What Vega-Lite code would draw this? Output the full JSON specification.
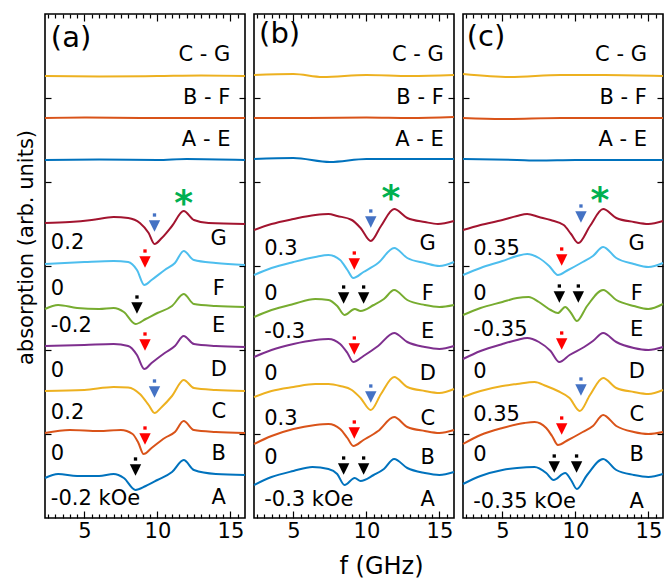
{
"$schema":"https://vega.github.io/schema/vega-lite/v6.json",
"padding":{"left":14,"top":12,"right":0,"bottom":0},
"spacing":9,
"bounds":"flush",
"config":{
 "font":"DejaVu Sans",
 "view":{"stroke":"#000","strokeWidth":1.6},
 "axis":{"domain":false,"grid":false,"tickColor":"#000","tickWidth":1.2,"labelColor":"#000","labelFontSize":21,"labelFont":"DejaVu Sans","titleFont":"DejaVu Sans","titleFontWeight":"normal","titleColor":"#000","labelOverlap":false,"labelFlush":false,"labelPadding":9},
 "text":{"font":"DejaVu Sans","fontSize":21,"color":"#000"}
},
"datasets":{
"curves":[
{"p":"a","s":"G","f":2.3,"v":295},{"p":"a","s":"G","f":4,"v":296},{"p":"a","s":"G","f":5.5,"v":298},{"p":"a","s":"G","f":7,"v":301},{"p":"a","s":"G","f":8,"v":300},{"p":"a","s":"G","f":8.8,"v":295},{"p":"a","s":"G","f":9.4,"v":285},{"p":"a","s":"G","f":9.8,"v":274},{"p":"a","s":"G","f":10.3,"v":280},{"p":"a","s":"G","f":11,"v":292},{"p":"a","s":"G","f":11.8,"v":307},{"p":"a","s":"G","f":12.5,"v":298},{"p":"a","s":"G","f":13.5,"v":295},{"p":"a","s":"G","f":16,"v":294},
{"p":"a","s":"F","f":2.3,"v":254},{"p":"a","s":"F","f":5,"v":256},{"p":"a","s":"F","f":7,"v":257},{"p":"a","s":"F","f":8,"v":256},{"p":"a","s":"F","f":8.6,"v":248},{"p":"a","s":"F","f":9.1,"v":233},{"p":"a","s":"F","f":9.6,"v":238},{"p":"a","s":"F","f":10.5,"v":248},{"p":"a","s":"F","f":11.2,"v":255},{"p":"a","s":"F","f":11.8,"v":267},{"p":"a","s":"F","f":12.5,"v":258},{"p":"a","s":"F","f":14,"v":255},{"p":"a","s":"F","f":16,"v":253},
{"p":"a","s":"E","f":2.3,"v":209},{"p":"a","s":"E","f":3.2,"v":213},{"p":"a","s":"E","f":4.5,"v":210},{"p":"a","s":"E","f":6,"v":209},{"p":"a","s":"E","f":7,"v":210},{"p":"a","s":"E","f":7.7,"v":206},{"p":"a","s":"E","f":8.5,"v":194},{"p":"a","s":"E","f":9.2,"v":199},{"p":"a","s":"E","f":10,"v":205},{"p":"a","s":"E","f":11,"v":212},{"p":"a","s":"E","f":11.8,"v":224},{"p":"a","s":"E","f":12.5,"v":214},{"p":"a","s":"E","f":14,"v":212},{"p":"a","s":"E","f":16,"v":211},
{"p":"a","s":"D","f":2.3,"v":172},{"p":"a","s":"D","f":5,"v":173},{"p":"a","s":"D","f":7,"v":174},{"p":"a","s":"D","f":8,"v":172},{"p":"a","s":"D","f":8.6,"v":163},{"p":"a","s":"D","f":9.1,"v":149},{"p":"a","s":"D","f":9.6,"v":155},{"p":"a","s":"D","f":10.5,"v":165},{"p":"a","s":"D","f":11.2,"v":172},{"p":"a","s":"D","f":11.8,"v":182},{"p":"a","s":"D","f":12.5,"v":174},{"p":"a","s":"D","f":14,"v":172},{"p":"a","s":"D","f":16,"v":171},
{"p":"a","s":"C","f":2.3,"v":127},{"p":"a","s":"C","f":5,"v":128},{"p":"a","s":"C","f":7,"v":131},{"p":"a","s":"C","f":8,"v":130.5},{"p":"a","s":"C","f":8.8,"v":124},{"p":"a","s":"C","f":9.4,"v":113},{"p":"a","s":"C","f":9.8,"v":105},{"p":"a","s":"C","f":10.3,"v":111},{"p":"a","s":"C","f":11,"v":122},{"p":"a","s":"C","f":11.8,"v":138},{"p":"a","s":"C","f":12.5,"v":130},{"p":"a","s":"C","f":14,"v":128},{"p":"a","s":"C","f":16,"v":127},
{"p":"a","s":"B","f":2.3,"v":85},{"p":"a","s":"B","f":4,"v":88},{"p":"a","s":"B","f":6,"v":87},{"p":"a","s":"B","f":7.5,"v":88},{"p":"a","s":"B","f":8.3,"v":84},{"p":"a","s":"B","f":8.7,"v":75},{"p":"a","s":"B","f":9.05,"v":64},{"p":"a","s":"B","f":9.6,"v":70},{"p":"a","s":"B","f":10.5,"v":80},{"p":"a","s":"B","f":11.2,"v":86},{"p":"a","s":"B","f":11.8,"v":97},{"p":"a","s":"B","f":12.5,"v":88},{"p":"a","s":"B","f":14,"v":86},{"p":"a","s":"B","f":16,"v":85},
{"p":"a","s":"A","f":2.3,"v":40},{"p":"a","s":"A","f":3.2,"v":44},{"p":"a","s":"A","f":4.5,"v":42},{"p":"a","s":"A","f":6,"v":42},{"p":"a","s":"A","f":7,"v":44},{"p":"a","s":"A","f":7.7,"v":40},{"p":"a","s":"A","f":8.5,"v":28},{"p":"a","s":"A","f":9.2,"v":32},{"p":"a","s":"A","f":10,"v":38},{"p":"a","s":"A","f":11,"v":46},{"p":"a","s":"A","f":11.8,"v":58},{"p":"a","s":"A","f":12.5,"v":48},{"p":"a","s":"A","f":14,"v":44},{"p":"a","s":"A","f":16,"v":43},
{"p":"a","s":"CG","f":2.3,"v":442},{"p":"a","s":"CG","f":6,"v":441.5},{"p":"a","s":"CG","f":10,"v":442},{"p":"a","s":"CG","f":13,"v":442.5},{"p":"a","s":"CG","f":16,"v":442},
{"p":"a","s":"BF","f":2.3,"v":400},{"p":"a","s":"BF","f":5,"v":400.5},{"p":"a","s":"BF","f":9,"v":400},{"p":"a","s":"BF","f":13,"v":400},{"p":"a","s":"BF","f":16,"v":400},
{"p":"a","s":"AE","f":2.3,"v":358},{"p":"a","s":"AE","f":6,"v":358.5},{"p":"a","s":"AE","f":10,"v":358},{"p":"a","s":"AE","f":12,"v":359},{"p":"a","s":"AE","f":16,"v":358},
{"p":"b","s":"G","f":2.3,"v":288},{"p":"b","s":"G","f":3.5,"v":294},{"p":"b","s":"G","f":5,"v":299},{"p":"b","s":"G","f":6.5,"v":303},{"p":"b","s":"G","f":7.4,"v":304},{"p":"b","s":"G","f":8,"v":302},{"p":"b","s":"G","f":9,"v":298},{"p":"b","s":"G","f":9.6,"v":290},{"p":"b","s":"G","f":10.3,"v":277},{"p":"b","s":"G","f":11,"v":292},{"p":"b","s":"G","f":11.9,"v":309},{"p":"b","s":"G","f":12.8,"v":300},{"p":"b","s":"G","f":14,"v":296},{"p":"b","s":"G","f":14.9,"v":294},{"p":"b","s":"G","f":16,"v":297},
{"p":"b","s":"F","f":2.3,"v":243},{"p":"b","s":"F","f":3.5,"v":250},{"p":"b","s":"F","f":5,"v":256},{"p":"b","s":"F","f":6.5,"v":261},{"p":"b","s":"F","f":7.4,"v":263},{"p":"b","s":"F","f":8.2,"v":258},{"p":"b","s":"F","f":8.7,"v":248},{"p":"b","s":"F","f":9.1,"v":240},{"p":"b","s":"F","f":9.8,"v":246},{"p":"b","s":"F","f":10.8,"v":255},{"p":"b","s":"F","f":11.9,"v":270},{"p":"b","s":"F","f":12.8,"v":260},{"p":"b","s":"F","f":14,"v":255},{"p":"b","s":"F","f":15,"v":252},{"p":"b","s":"F","f":16,"v":256},
{"p":"b","s":"E","f":2.3,"v":201},{"p":"b","s":"E","f":3.5,"v":208},{"p":"b","s":"E","f":5,"v":214},{"p":"b","s":"E","f":6.5,"v":219},{"p":"b","s":"E","f":7.4,"v":218},{"p":"b","s":"E","f":8,"v":212},{"p":"b","s":"E","f":8.5,"v":203},{"p":"b","s":"E","f":9.2,"v":209},{"p":"b","s":"E","f":9.6,"v":207},{"p":"b","s":"E","f":10.5,"v":213},{"p":"b","s":"E","f":11.2,"v":219},{"p":"b","s":"E","f":11.9,"v":228},{"p":"b","s":"E","f":12.8,"v":218},{"p":"b","s":"E","f":14,"v":213},{"p":"b","s":"E","f":15,"v":211},{"p":"b","s":"E","f":16,"v":213},
{"p":"b","s":"D","f":2.3,"v":161},{"p":"b","s":"D","f":3.5,"v":168},{"p":"b","s":"D","f":5,"v":174},{"p":"b","s":"D","f":6.5,"v":178},{"p":"b","s":"D","f":7.4,"v":179},{"p":"b","s":"D","f":8.2,"v":174},{"p":"b","s":"D","f":8.7,"v":165},{"p":"b","s":"D","f":9.1,"v":156},{"p":"b","s":"D","f":9.8,"v":162},{"p":"b","s":"D","f":10.8,"v":172},{"p":"b","s":"D","f":11.9,"v":185},{"p":"b","s":"D","f":12.8,"v":176},{"p":"b","s":"D","f":14,"v":171},{"p":"b","s":"D","f":15,"v":169},{"p":"b","s":"D","f":16,"v":172},
{"p":"b","s":"C","f":2.3,"v":121},{"p":"b","s":"C","f":3.5,"v":127},{"p":"b","s":"C","f":5,"v":131},{"p":"b","s":"C","f":6.5,"v":134},{"p":"b","s":"C","f":7.4,"v":134},{"p":"b","s":"C","f":8.2,"v":132},{"p":"b","s":"C","f":9,"v":128},{"p":"b","s":"C","f":9.6,"v":120},{"p":"b","s":"C","f":10.3,"v":108},{"p":"b","s":"C","f":11,"v":124},{"p":"b","s":"C","f":11.9,"v":141},{"p":"b","s":"C","f":12.8,"v":131},{"p":"b","s":"C","f":14,"v":127},{"p":"b","s":"C","f":15,"v":125},{"p":"b","s":"C","f":16,"v":129},
{"p":"b","s":"B","f":2.3,"v":74},{"p":"b","s":"B","f":3.5,"v":82},{"p":"b","s":"B","f":5,"v":89},{"p":"b","s":"B","f":6.5,"v":93},{"p":"b","s":"B","f":7.4,"v":94},{"p":"b","s":"B","f":8.2,"v":89},{"p":"b","s":"B","f":8.7,"v":80},{"p":"b","s":"B","f":9.1,"v":72},{"p":"b","s":"B","f":9.8,"v":78},{"p":"b","s":"B","f":10.8,"v":87},{"p":"b","s":"B","f":11.9,"v":101},{"p":"b","s":"B","f":12.8,"v":91},{"p":"b","s":"B","f":14,"v":87},{"p":"b","s":"B","f":15,"v":85},{"p":"b","s":"B","f":16,"v":88},
{"p":"b","s":"A","f":2.3,"v":33},{"p":"b","s":"A","f":3.5,"v":41},{"p":"b","s":"A","f":5,"v":47},{"p":"b","s":"A","f":6.3,"v":51},{"p":"b","s":"A","f":7.4,"v":49},{"p":"b","s":"A","f":8,"v":44},{"p":"b","s":"A","f":8.5,"v":33},{"p":"b","s":"A","f":9.2,"v":40},{"p":"b","s":"A","f":9.6,"v":37},{"p":"b","s":"A","f":10.5,"v":43},{"p":"b","s":"A","f":11.2,"v":49},{"p":"b","s":"A","f":11.9,"v":59},{"p":"b","s":"A","f":12.8,"v":50},{"p":"b","s":"A","f":14,"v":45},{"p":"b","s":"A","f":15,"v":43},{"p":"b","s":"A","f":16,"v":46},
{"p":"b","s":"CG","f":2.3,"v":443},{"p":"b","s":"CG","f":5,"v":444},{"p":"b","s":"CG","f":7,"v":441},{"p":"b","s":"CG","f":10,"v":443},{"p":"b","s":"CG","f":13,"v":442},{"p":"b","s":"CG","f":16,"v":443},
{"p":"b","s":"BF","f":2.3,"v":400},{"p":"b","s":"BF","f":6,"v":400},{"p":"b","s":"BF","f":10,"v":400.5},{"p":"b","s":"BF","f":13,"v":400},{"p":"b","s":"BF","f":16,"v":401},
{"p":"b","s":"AE","f":2.3,"v":359},{"p":"b","s":"AE","f":5,"v":360},{"p":"b","s":"AE","f":7.5,"v":356},{"p":"b","s":"AE","f":10,"v":359},{"p":"b","s":"AE","f":13,"v":359},{"p":"b","s":"AE","f":16,"v":359},
{"p":"c","s":"G","f":2.3,"v":288},{"p":"c","s":"G","f":3.5,"v":293},{"p":"c","s":"G","f":5,"v":298},{"p":"c","s":"G","f":6,"v":302},{"p":"c","s":"G","f":6.7,"v":304},{"p":"c","s":"G","f":7.5,"v":301},{"p":"c","s":"G","f":8.3,"v":298},{"p":"c","s":"G","f":9.2,"v":293},{"p":"c","s":"G","f":9.7,"v":284},{"p":"c","s":"G","f":10.2,"v":275},{"p":"c","s":"G","f":11,"v":292},{"p":"c","s":"G","f":11.9,"v":309},{"p":"c","s":"G","f":12.8,"v":300},{"p":"c","s":"G","f":14,"v":296},{"p":"c","s":"G","f":15,"v":294},{"p":"c","s":"G","f":16,"v":297},
{"p":"c","s":"F","f":2.3,"v":243},{"p":"c","s":"F","f":3.5,"v":250},{"p":"c","s":"F","f":5,"v":257},{"p":"c","s":"F","f":6,"v":262},{"p":"c","s":"F","f":6.7,"v":264},{"p":"c","s":"F","f":7.5,"v":260},{"p":"c","s":"F","f":8.2,"v":252},{"p":"c","s":"F","f":8.8,"v":243},{"p":"c","s":"F","f":9.5,"v":248},{"p":"c","s":"F","f":10.5,"v":256},{"p":"c","s":"F","f":11.2,"v":262},{"p":"c","s":"F","f":11.9,"v":271},{"p":"c","s":"F","f":12.8,"v":260},{"p":"c","s":"F","f":14,"v":254},{"p":"c","s":"F","f":15,"v":251},{"p":"c","s":"F","f":16,"v":255},
{"p":"c","s":"E","f":2.3,"v":203},{"p":"c","s":"E","f":3.5,"v":210},{"p":"c","s":"E","f":5,"v":216},{"p":"c","s":"E","f":6,"v":220},{"p":"c","s":"E","f":6.8,"v":221},{"p":"c","s":"E","f":7.5,"v":216},{"p":"c","s":"E","f":8.3,"v":208},{"p":"c","s":"E","f":8.8,"v":205},{"p":"c","s":"E","f":9.3,"v":211},{"p":"c","s":"E","f":9.7,"v":205},{"p":"c","s":"E","f":10.1,"v":197},{"p":"c","s":"E","f":10.8,"v":212},{"p":"c","s":"E","f":11.9,"v":228},{"p":"c","s":"E","f":12.8,"v":218},{"p":"c","s":"E","f":14,"v":212},{"p":"c","s":"E","f":15,"v":209},{"p":"c","s":"E","f":16,"v":214},
{"p":"c","s":"D","f":2.3,"v":159},{"p":"c","s":"D","f":3.5,"v":167},{"p":"c","s":"D","f":5,"v":174},{"p":"c","s":"D","f":6,"v":178},{"p":"c","s":"D","f":6.7,"v":180},{"p":"c","s":"D","f":7.5,"v":176},{"p":"c","s":"D","f":8.3,"v":167},{"p":"c","s":"D","f":8.9,"v":156},{"p":"c","s":"D","f":9.6,"v":163},{"p":"c","s":"D","f":10.6,"v":171},{"p":"c","s":"D","f":11.2,"v":177},{"p":"c","s":"D","f":11.9,"v":185},{"p":"c","s":"D","f":12.8,"v":176},{"p":"c","s":"D","f":14,"v":170},{"p":"c","s":"D","f":15,"v":168},{"p":"c","s":"D","f":16,"v":171},
{"p":"c","s":"C","f":2.3,"v":121},{"p":"c","s":"C","f":3.5,"v":127},{"p":"c","s":"C","f":5,"v":132},{"p":"c","s":"C","f":6,"v":134},{"p":"c","s":"C","f":7.2,"v":136},{"p":"c","s":"C","f":8,"v":132},{"p":"c","s":"C","f":8.8,"v":127},{"p":"c","s":"C","f":9.6,"v":120},{"p":"c","s":"C","f":10.3,"v":107},{"p":"c","s":"C","f":11,"v":123},{"p":"c","s":"C","f":11.9,"v":140},{"p":"c","s":"C","f":12.8,"v":130},{"p":"c","s":"C","f":14,"v":126},{"p":"c","s":"C","f":15,"v":124},{"p":"c","s":"C","f":16,"v":128},
{"p":"c","s":"B","f":2.3,"v":74},{"p":"c","s":"B","f":3.5,"v":83},{"p":"c","s":"B","f":5,"v":90},{"p":"c","s":"B","f":6.5,"v":95},{"p":"c","s":"B","f":7.2,"v":96},{"p":"c","s":"B","f":8,"v":90},{"p":"c","s":"B","f":8.4,"v":82},{"p":"c","s":"B","f":8.8,"v":73},{"p":"c","s":"B","f":9.5,"v":78},{"p":"c","s":"B","f":10.5,"v":86},{"p":"c","s":"B","f":11.2,"v":92},{"p":"c","s":"B","f":11.9,"v":103},{"p":"c","s":"B","f":12.8,"v":92},{"p":"c","s":"B","f":14,"v":86},{"p":"c","s":"B","f":15,"v":84},{"p":"c","s":"B","f":16,"v":86},
{"p":"c","s":"A","f":2.3,"v":34},{"p":"c","s":"A","f":3.5,"v":42},{"p":"c","s":"A","f":5,"v":48},{"p":"c","s":"A","f":6,"v":50},{"p":"c","s":"A","f":7.2,"v":51},{"p":"c","s":"A","f":8,"v":45},{"p":"c","s":"A","f":8.5,"v":38},{"p":"c","s":"A","f":9.3,"v":45},{"p":"c","s":"A","f":9.7,"v":38},{"p":"c","s":"A","f":10.1,"v":29},{"p":"c","s":"A","f":10.8,"v":43},{"p":"c","s":"A","f":11.9,"v":59},{"p":"c","s":"A","f":12.8,"v":48},{"p":"c","s":"A","f":14,"v":43},{"p":"c","s":"A","f":15,"v":41},{"p":"c","s":"A","f":16,"v":44},
{"p":"c","s":"CG","f":2.3,"v":444},{"p":"c","s":"CG","f":5.5,"v":441},{"p":"c","s":"CG","f":9,"v":443},{"p":"c","s":"CG","f":12,"v":443},{"p":"c","s":"CG","f":16,"v":442},
{"p":"c","s":"BF","f":2.3,"v":400},{"p":"c","s":"BF","f":5,"v":399},{"p":"c","s":"BF","f":9,"v":400},{"p":"c","s":"BF","f":13,"v":400},{"p":"c","s":"BF","f":16,"v":400},
{"p":"c","s":"AE","f":2.3,"v":359},{"p":"c","s":"AE","f":6,"v":358},{"p":"c","s":"AE","f":7.5,"v":357.5},{"p":"c","s":"AE","f":10,"v":358},{"p":"c","s":"AE","f":16,"v":358}
],
"arrows":[
{"p":"a","k":"b","f":9.8,"v":292},{"p":"a","k":"r","f":9.15,"v":256},{"p":"a","k":"k","f":8.6,"v":210},{"p":"a","k":"r","f":9.15,"v":173},{"p":"a","k":"b","f":9.8,"v":126},{"p":"a","k":"r","f":9.15,"v":79},{"p":"a","k":"k","f":8.5,"v":48},
{"p":"b","k":"b","f":10.3,"v":296},{"p":"b","k":"r","f":9.17,"v":254},{"p":"b","k":"k","f":8.44,"v":220},{"p":"b","k":"k","f":9.81,"v":220},{"p":"b","k":"r","f":9.17,"v":169},{"p":"b","k":"b","f":10.3,"v":121},{"p":"b","k":"r","f":9.17,"v":85},{"p":"b","k":"k","f":8.44,"v":49},{"p":"b","k":"k","f":9.81,"v":49},
{"p":"c","k":"b","f":10.38,"v":301},{"p":"c","k":"r","f":9.06,"v":258},{"p":"c","k":"k","f":8.9,"v":221},{"p":"c","k":"k","f":10.2,"v":221},{"p":"c","k":"r","f":9.06,"v":174},{"p":"c","k":"b","f":10.38,"v":128},{"p":"c","k":"r","f":9.06,"v":89},{"p":"c","k":"k","f":8.55,"v":51},{"p":"c","k":"k","f":10.08,"v":51}
],
"stars":[{"p":"a","f":11.8,"v":321},{"p":"b","f":11.68,"v":326},{"p":"c","f":11.68,"v":324}],
"leftlab":[
{"p":"a","t":"0.2","f":2.7,"v":275},{"p":"a","t":"0","f":2.7,"v":229},{"p":"a","t":"-0.2","f":2.7,"v":192},{"p":"a","t":"0","f":2.7,"v":147},{"p":"a","t":"0.2","f":2.7,"v":105},{"p":"a","t":"0","f":2.7,"v":64},{"p":"a","t":"-0.2 kOe","f":2.7,"v":19},
{"p":"b","t":"0.3","f":3.0,"v":269},{"p":"b","t":"0","f":3.0,"v":224},{"p":"b","t":"-0.3","f":3.0,"v":186},{"p":"b","t":"0","f":3.0,"v":144},{"p":"b","t":"0.3","f":3.0,"v":99},{"p":"b","t":"0","f":3.0,"v":60},{"p":"b","t":"-0.3 kOe","f":3.0,"v":18},
{"p":"c","t":"0.35","f":3.0,"v":269},{"p":"c","t":"0","f":3.0,"v":224},{"p":"c","t":"-0.35","f":3.0,"v":188},{"p":"c","t":"0","f":3.0,"v":146},{"p":"c","t":"0.35","f":3.0,"v":103},{"p":"c","t":"0","f":3.0,"v":63},{"p":"c","t":"-0.35 kOe","f":3.0,"v":16}
],
"letters":[
{"p":"a","t":"G","v":279},{"p":"a","t":"F","v":229},{"p":"a","t":"E","v":192},{"p":"a","t":"D","v":148},{"p":"a","t":"C","v":106},{"p":"a","t":"B","v":64},{"p":"a","t":"A","v":20},
{"p":"b","t":"G","v":274},{"p":"b","t":"F","v":224},{"p":"b","t":"E","v":186},{"p":"b","t":"D","v":144},{"p":"b","t":"C","v":99},{"p":"b","t":"B","v":60},{"p":"b","t":"A","v":18},
{"p":"c","t":"G","v":274},{"p":"c","t":"F","v":224},{"p":"c","t":"E","v":188},{"p":"c","t":"D","v":146},{"p":"c","t":"C","v":103},{"p":"c","t":"B","v":63},{"p":"c","t":"A","v":16}
],
"difflab":[
{"p":"a","t":"C - G","f":15.0,"v":463},{"p":"a","t":"B - F","f":15.0,"v":420},{"p":"a","t":"A - E","f":15.0,"v":378},
{"p":"b","t":"C - G","f":15.3,"v":463},{"p":"b","t":"B - F","f":15.3,"v":420},{"p":"b","t":"A - E","f":15.3,"v":378},
{"p":"c","t":"C - G","f":14.9,"v":463},{"p":"c","t":"B - F","f":14.9,"v":420},{"p":"c","t":"A - E","f":14.9,"v":378}
],
"plab":[{"p":"a","t":"(a)","f":2.7,"v":480},{"p":"b","t":"(b)","f":2.65,"v":484},{"p":"c","t":"(c)","f":2.55,"v":481}]
},
"hconcat":[
{"width":200,"height":504,"resolve":{"axis":{"x":"independent","y":"independent"}},
"layer":[
{"data":{"name":"curves"},"transform":[{"filter":"datum.p==='a'"}],"mark":{"type":"line","strokeWidth":2,"interpolate":"monotone"},
 "encoding":{"x":{"field":"f","type":"quantitative","scale":{"domain":[2.3,16],"nice":false,"zero":false},"axis":{"orient":"bottom","values":[5,10,15],"tickSize":-7,"title":null}},
 "y":{"field":"v","type":"quantitative","scale":{"domain":[0,504],"nice":false,"zero":false},"axis":{"orient":"left","values":[84,168,252,336,420],"offset":-6,"tickSize":6,"labels":false,"labelPadding":0,"title":"absorption (arb. units)","titleFontSize":21,"titleX":-15,"titleY":233}},
 "stroke":{"field":"s","type":"nominal","scale":{"domain":["A","B","C","D","E","F","G","AE","BF","CG"],"range":["#0072BD","#D95319","#EDB120","#7E2F8E","#77AC30","#4DBEEE","#A2142F","#0072BD","#D95319","#EDB120"]},"legend":null}}},
{"data":{"name":"arrows"},"transform":[{"filter":"datum.p==='a'"}],"mark":{"type":"point","shape":"M-1,-1L1,-1L0,1Z","size":130,"filled":true,"opacity":1,"strokeWidth":0},
 "encoding":{"x":{"field":"f","type":"quantitative","scale":{"domain":[2.3,16],"nice":false,"zero":false},"axis":{"orient":"top","values":[5,10,15],"tickSize":-7,"labels":false,"labelPadding":0,"title":null}},
 "y":{"field":"v","type":"quantitative","scale":{"domain":[0,504],"nice":false,"zero":false},"axis":{"orient":"right","values":[84,168,252,336,420],"offset":-6,"tickSize":6,"labels":false,"labelPadding":0,"title":null}},
 "fill":{"field":"k","type":"nominal","scale":{"domain":["b","r","k"],"range":["#4472C4","#FF0000","#000000"]},"legend":null}}},
{"data":{"name":"arrows"},"transform":[{"filter":"datum.p==='a'"}],"mark":{"type":"square","size":11,"yOffset":-11,"opacity":1},
 "encoding":{"x":{"field":"f","type":"quantitative","scale":{"domain":[2.3,16],"nice":false,"zero":false},"axis":{"orient":"bottom","values":[2.5,3,3.5,4,4.5,5.5,6,6.5,7,7.5,8,8.5,9,9.5,10.5,11,11.5,12,12.5,13,13.5,14,14.5,15.5],"tickSize":-4,"labels":false,"labelPadding":0,"title":null}},
 "y":{"field":"v","type":"quantitative","scale":{"domain":[0,504],"nice":false,"zero":false},"axis":null},
 "fill":{"field":"k","type":"nominal","scale":{"domain":["b","r","k"],"range":["#4472C4","#FF0000","#000000"]},"legend":null}}},
{"data":{"name":"stars"},"transform":[{"filter":"datum.p==='a'"}],"mark":{"type":"text","text":"*","fontSize":36,"fontWeight":"bold","color":"#00B050","dy":7,"align":"center","baseline":"middle"},
 "encoding":{"x":{"field":"f","type":"quantitative","scale":{"domain":[2.3,16],"nice":false,"zero":false},"axis":{"orient":"top","values":[2.5,3,3.5,4,4.5,5.5,6,6.5,7,7.5,8,8.5,9,9.5,10.5,11,11.5,12,12.5,13,13.5,14,14.5,15.5],"tickSize":-4,"labels":false,"labelPadding":0,"title":null}},
 "y":{"field":"v","type":"quantitative","scale":{"domain":[0,504],"nice":false,"zero":false},"axis":null}}},
{"data":{"name":"leftlab"},"transform":[{"filter":"datum.p==='a'"}],"mark":{"type":"text","align":"left","baseline":"middle"},
 "encoding":{"x":{"field":"f","type":"quantitative","scale":{"domain":[2.3,16],"nice":false,"zero":false},"axis":null},"y":{"field":"v","type":"quantitative","scale":{"domain":[0,504],"nice":false,"zero":false},"axis":null},"text":{"field":"t","type":"nominal"}}},
{"data":{"name":"letters"},"transform":[{"filter":"datum.p==='a'"}],"mark":{"type":"text","align":"center","baseline":"middle"},
 "encoding":{"x":{"datum":14.2,"type":"quantitative","scale":{"domain":[2.3,16],"nice":false,"zero":false},"axis":null},"y":{"field":"v","type":"quantitative","scale":{"domain":[0,504],"nice":false,"zero":false},"axis":null},"text":{"field":"t","type":"nominal"}}},
{"data":{"name":"difflab"},"transform":[{"filter":"datum.p==='a'"}],"mark":{"type":"text","align":"right","baseline":"middle"},
 "encoding":{"x":{"field":"f","type":"quantitative","scale":{"domain":[2.3,16],"nice":false,"zero":false},"axis":null},"y":{"field":"v","type":"quantitative","scale":{"domain":[0,504],"nice":false,"zero":false},"axis":null},"text":{"field":"t","type":"nominal"}}},
{"data":{"name":"plab"},"transform":[{"filter":"datum.p==='a'"}],"mark":{"type":"text","align":"left","baseline":"middle","fontSize":29},
 "encoding":{"x":{"field":"f","type":"quantitative","scale":{"domain":[2.3,16],"nice":false,"zero":false},"axis":null},"y":{"field":"v","type":"quantitative","scale":{"domain":[0,504],"nice":false,"zero":false},"axis":null},"text":{"field":"t","type":"nominal"}}}
]},
{"width":200,"height":504,"resolve":{"axis":{"x":"independent","y":"independent"}},
"layer":[
{"data":{"name":"curves"},"transform":[{"filter":"datum.p==='b'"}],"mark":{"type":"line","strokeWidth":2,"interpolate":"monotone"},
 "encoding":{"x":{"field":"f","type":"quantitative","scale":{"domain":[2.3,16],"nice":false,"zero":false},"axis":{"orient":"bottom","values":[5,10,15],"tickSize":-7,"title":"f (GHz)","titleFontSize":24,"titleX":127,"titleY":36}},
 "y":{"field":"v","type":"quantitative","scale":{"domain":[0,504],"nice":false,"zero":false},"axis":{"orient":"left","values":[84,168,252,336,420],"offset":-6,"tickSize":6,"labels":false,"labelPadding":0,"title":null}},
 "stroke":{"field":"s","type":"nominal","scale":{"domain":["A","B","C","D","E","F","G","AE","BF","CG"],"range":["#0072BD","#D95319","#EDB120","#7E2F8E","#77AC30","#4DBEEE","#A2142F","#0072BD","#D95319","#EDB120"]},"legend":null}}},
{"data":{"name":"arrows"},"transform":[{"filter":"datum.p==='b'"}],"mark":{"type":"point","shape":"M-1,-1L1,-1L0,1Z","size":130,"filled":true,"opacity":1,"strokeWidth":0},
 "encoding":{"x":{"field":"f","type":"quantitative","scale":{"domain":[2.3,16],"nice":false,"zero":false},"axis":{"orient":"top","values":[5,10,15],"tickSize":-7,"labels":false,"labelPadding":0,"title":null}},
 "y":{"field":"v","type":"quantitative","scale":{"domain":[0,504],"nice":false,"zero":false},"axis":{"orient":"right","values":[84,168,252,336,420],"offset":-6,"tickSize":6,"labels":false,"labelPadding":0,"title":null}},
 "fill":{"field":"k","type":"nominal","scale":{"domain":["b","r","k"],"range":["#4472C4","#FF0000","#000000"]},"legend":null}}},
{"data":{"name":"arrows"},"transform":[{"filter":"datum.p==='b'"}],"mark":{"type":"square","size":11,"yOffset":-11,"opacity":1},
 "encoding":{"x":{"field":"f","type":"quantitative","scale":{"domain":[2.3,16],"nice":false,"zero":false},"axis":{"orient":"bottom","values":[2.5,3,3.5,4,4.5,5.5,6,6.5,7,7.5,8,8.5,9,9.5,10.5,11,11.5,12,12.5,13,13.5,14,14.5,15.5],"tickSize":-4,"labels":false,"labelPadding":0,"title":null}},
 "y":{"field":"v","type":"quantitative","scale":{"domain":[0,504],"nice":false,"zero":false},"axis":null},
 "fill":{"field":"k","type":"nominal","scale":{"domain":["b","r","k"],"range":["#4472C4","#FF0000","#000000"]},"legend":null}}},
{"data":{"name":"stars"},"transform":[{"filter":"datum.p==='b'"}],"mark":{"type":"text","text":"*","fontSize":36,"fontWeight":"bold","color":"#00B050","dy":7,"align":"center","baseline":"middle"},
 "encoding":{"x":{"field":"f","type":"quantitative","scale":{"domain":[2.3,16],"nice":false,"zero":false},"axis":{"orient":"top","values":[2.5,3,3.5,4,4.5,5.5,6,6.5,7,7.5,8,8.5,9,9.5,10.5,11,11.5,12,12.5,13,13.5,14,14.5,15.5],"tickSize":-4,"labels":false,"labelPadding":0,"title":null}},
 "y":{"field":"v","type":"quantitative","scale":{"domain":[0,504],"nice":false,"zero":false},"axis":null}}},
{"data":{"name":"leftlab"},"transform":[{"filter":"datum.p==='b'"}],"mark":{"type":"text","align":"left","baseline":"middle"},
 "encoding":{"x":{"field":"f","type":"quantitative","scale":{"domain":[2.3,16],"nice":false,"zero":false},"axis":null},"y":{"field":"v","type":"quantitative","scale":{"domain":[0,504],"nice":false,"zero":false},"axis":null},"text":{"field":"t","type":"nominal"}}},
{"data":{"name":"letters"},"transform":[{"filter":"datum.p==='b'"}],"mark":{"type":"text","align":"center","baseline":"middle"},
 "encoding":{"x":{"datum":14.2,"type":"quantitative","scale":{"domain":[2.3,16],"nice":false,"zero":false},"axis":null},"y":{"field":"v","type":"quantitative","scale":{"domain":[0,504],"nice":false,"zero":false},"axis":null},"text":{"field":"t","type":"nominal"}}},
{"data":{"name":"difflab"},"transform":[{"filter":"datum.p==='b'"}],"mark":{"type":"text","align":"right","baseline":"middle"},
 "encoding":{"x":{"field":"f","type":"quantitative","scale":{"domain":[2.3,16],"nice":false,"zero":false},"axis":null},"y":{"field":"v","type":"quantitative","scale":{"domain":[0,504],"nice":false,"zero":false},"axis":null},"text":{"field":"t","type":"nominal"}}},
{"data":{"name":"plab"},"transform":[{"filter":"datum.p==='b'"}],"mark":{"type":"text","align":"left","baseline":"middle","fontSize":29},
 "encoding":{"x":{"field":"f","type":"quantitative","scale":{"domain":[2.3,16],"nice":false,"zero":false},"axis":null},"y":{"field":"v","type":"quantitative","scale":{"domain":[0,504],"nice":false,"zero":false},"axis":null},"text":{"field":"t","type":"nominal"}}}
]},
{"width":200,"height":504,"resolve":{"axis":{"x":"independent","y":"independent"}},
"layer":[
{"data":{"name":"curves"},"transform":[{"filter":"datum.p==='c'"}],"mark":{"type":"line","strokeWidth":2,"interpolate":"monotone"},
 "encoding":{"x":{"field":"f","type":"quantitative","scale":{"domain":[2.3,16],"nice":false,"zero":false},"axis":{"orient":"bottom","values":[5,10,15],"tickSize":-7,"title":null}},
 "y":{"field":"v","type":"quantitative","scale":{"domain":[0,504],"nice":false,"zero":false},"axis":{"orient":"left","values":[84,168,252,336,420],"offset":-6,"tickSize":6,"labels":false,"labelPadding":0,"title":null}},
 "stroke":{"field":"s","type":"nominal","scale":{"domain":["A","B","C","D","E","F","G","AE","BF","CG"],"range":["#0072BD","#D95319","#EDB120","#7E2F8E","#77AC30","#4DBEEE","#A2142F","#0072BD","#D95319","#EDB120"]},"legend":null}}},
{"data":{"name":"arrows"},"transform":[{"filter":"datum.p==='c'"}],"mark":{"type":"point","shape":"M-1,-1L1,-1L0,1Z","size":130,"filled":true,"opacity":1,"strokeWidth":0},
 "encoding":{"x":{"field":"f","type":"quantitative","scale":{"domain":[2.3,16],"nice":false,"zero":false},"axis":{"orient":"top","values":[5,10,15],"tickSize":-7,"labels":false,"labelPadding":0,"title":null}},
 "y":{"field":"v","type":"quantitative","scale":{"domain":[0,504],"nice":false,"zero":false},"axis":{"orient":"right","values":[84,168,252,336,420],"offset":-6,"tickSize":6,"labels":false,"labelPadding":0,"title":null}},
 "fill":{"field":"k","type":"nominal","scale":{"domain":["b","r","k"],"range":["#4472C4","#FF0000","#000000"]},"legend":null}}},
{"data":{"name":"arrows"},"transform":[{"filter":"datum.p==='c'"}],"mark":{"type":"square","size":11,"yOffset":-11,"opacity":1},
 "encoding":{"x":{"field":"f","type":"quantitative","scale":{"domain":[2.3,16],"nice":false,"zero":false},"axis":{"orient":"bottom","values":[2.5,3,3.5,4,4.5,5.5,6,6.5,7,7.5,8,8.5,9,9.5,10.5,11,11.5,12,12.5,13,13.5,14,14.5,15.5],"tickSize":-4,"labels":false,"labelPadding":0,"title":null}},
 "y":{"field":"v","type":"quantitative","scale":{"domain":[0,504],"nice":false,"zero":false},"axis":null},
 "fill":{"field":"k","type":"nominal","scale":{"domain":["b","r","k"],"range":["#4472C4","#FF0000","#000000"]},"legend":null}}},
{"data":{"name":"stars"},"transform":[{"filter":"datum.p==='c'"}],"mark":{"type":"text","text":"*","fontSize":36,"fontWeight":"bold","color":"#00B050","dy":7,"align":"center","baseline":"middle"},
 "encoding":{"x":{"field":"f","type":"quantitative","scale":{"domain":[2.3,16],"nice":false,"zero":false},"axis":{"orient":"top","values":[2.5,3,3.5,4,4.5,5.5,6,6.5,7,7.5,8,8.5,9,9.5,10.5,11,11.5,12,12.5,13,13.5,14,14.5,15.5],"tickSize":-4,"labels":false,"labelPadding":0,"title":null}},
 "y":{"field":"v","type":"quantitative","scale":{"domain":[0,504],"nice":false,"zero":false},"axis":null}}},
{"data":{"name":"leftlab"},"transform":[{"filter":"datum.p==='c'"}],"mark":{"type":"text","align":"left","baseline":"middle"},
 "encoding":{"x":{"field":"f","type":"quantitative","scale":{"domain":[2.3,16],"nice":false,"zero":false},"axis":null},"y":{"field":"v","type":"quantitative","scale":{"domain":[0,504],"nice":false,"zero":false},"axis":null},"text":{"field":"t","type":"nominal"}}},
{"data":{"name":"letters"},"transform":[{"filter":"datum.p==='c'"}],"mark":{"type":"text","align":"center","baseline":"middle"},
 "encoding":{"x":{"datum":14.2,"type":"quantitative","scale":{"domain":[2.3,16],"nice":false,"zero":false},"axis":null},"y":{"field":"v","type":"quantitative","scale":{"domain":[0,504],"nice":false,"zero":false},"axis":null},"text":{"field":"t","type":"nominal"}}},
{"data":{"name":"difflab"},"transform":[{"filter":"datum.p==='c'"}],"mark":{"type":"text","align":"right","baseline":"middle"},
 "encoding":{"x":{"field":"f","type":"quantitative","scale":{"domain":[2.3,16],"nice":false,"zero":false},"axis":null},"y":{"field":"v","type":"quantitative","scale":{"domain":[0,504],"nice":false,"zero":false},"axis":null},"text":{"field":"t","type":"nominal"}}},
{"data":{"name":"plab"},"transform":[{"filter":"datum.p==='c'"}],"mark":{"type":"text","align":"left","baseline":"middle","fontSize":29},
 "encoding":{"x":{"field":"f","type":"quantitative","scale":{"domain":[2.3,16],"nice":false,"zero":false},"axis":null},"y":{"field":"v","type":"quantitative","scale":{"domain":[0,504],"nice":false,"zero":false},"axis":null},"text":{"field":"t","type":"nominal"}}}
]}
]
}
